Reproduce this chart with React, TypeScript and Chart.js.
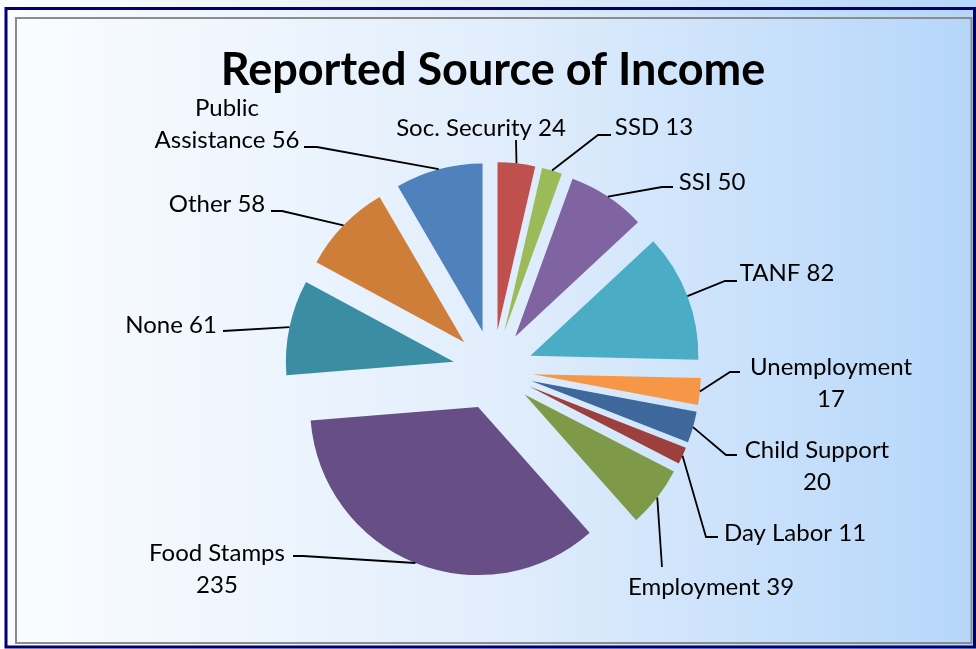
import React, { useEffect, useRef } from "react";
import { Chart, registerables, ArcElement, PieController } from "chart.js";

Chart.register(...registerables);

// ---------- data ----------
const TITLE = "Reported Source of Income";
const CATEGORIES = [
  "Soc. Security",
  "SSD",
  "SSI",
  "TANF",
  "Unemployment",
  "Child Support",
  "Day Labor",
  "Employment",
  "Food Stamps",
  "None",
  "Other",
  "Public Assistance",
];
const VALUES = [24, 13, 50, 82, 17, 20, 11, 39, 235, 61, 58, 56];
// number of words on the first label line (0 = single line label)
const LABEL_BREAK = [0, 0, 0, 0, 1, 2, 0, 0, 2, 0, 0, 1];

// ---------- styles ----------
const COLORS = [
  "#C0504D",
  "#9BBB59",
  "#8064A2",
  "#4BACC6",
  "#F79646",
  "#3E689B",
  "#9D3F3C",
  "#7E9A48",
  "#674E86",
  "#3A8DA3",
  "#CF7E39",
  "#4F81BD",
];

// label layout relative to the pie centre: [textX, textY, elbowX, elbowY, endX, endY]
const LABEL_LAYOUT: number[][] = [
  [-12, -242, 23, -230, 23, -230],
  [161, -243, 105, -235, 118, -235],
  [219, -188, 169, -183, 180, -183],
  [294, -97, 232, -89, 244, -89],
  [338, -3, 237, 2, 247, 2],
  [324, 80, 233, 85, 244, 85],
  [302, 163, 213, 167, 225, 167],
  [218, 217, 169, 197, 169, 197],
  [-276, 183, -190, 186, -200, 186],
  [-322, -45, -270, -39, -270, -39],
  [-276, -166, -211, -159, -222, -159],
  [-266, -262, -176, -223, -189, -223],
];

const EXPLODE = 40;
const PIE_RADIUS = 168;
const LABEL_FONT = "24px Lato";
const LINE_HEIGHT = 32;

class ExplodedArc extends ArcElement {
  static id = "explodedArc";
  draw(ctx: CanvasRenderingContext2D) {
    const half = ((this as any).startAngle + (this as any).endAngle) / 2;
    ctx.save();
    ctx.translate(Math.cos(half) * EXPLODE, Math.sin(half) * EXPLODE);
    super.draw(ctx);
    ctx.restore();
  }
}

class ExplodedPie extends PieController {
  static id = "explodedPie";
  static defaults = { ...(PieController as any).defaults, dataElementType: "explodedArc" };
}

Chart.register(ExplodedArc as any, ExplodedPie as any);

const backgroundPlugin = {
  id: "bgFrame",
  beforeDraw(chart: any) {
    const { ctx, width, height } = chart;
    ctx.save();
    const g = ctx.createLinearGradient(0, 0, width, 0);
    g.addColorStop(0, "#fbfdff");
    g.addColorStop(0.5, "#e2eefc");
    g.addColorStop(1, "#b5d6fa");
    ctx.fillStyle = g;
    ctx.fillRect(0, 0, width, height);
    ctx.strokeStyle = "#000070";
    ctx.lineWidth = 3;
    ctx.strokeRect(6, 8.5, 968.5, 638.5);
    ctx.strokeStyle = "#8c8c8c";
    ctx.lineWidth = 2;
    ctx.strokeRect(16, 18, 955.5, 625);
    ctx.restore();
  },
};

const labelPlugin = {
  id: "pieLabels",
  afterDatasetsDraw(chart: any) {
    const { ctx } = chart;
    const meta = chart.getDatasetMeta(0);
    ctx.save();
    ctx.font = LABEL_FONT;
    ctx.fillStyle = "#000";
    ctx.strokeStyle = "#000";
    ctx.lineWidth = 1.8;
    ctx.textAlign = "center";
    ctx.textBaseline = "middle";
    meta.data.forEach((arc: any, i: number) => {
      const { x, y, startAngle, endAngle, outerRadius } = arc.getProps(
        ["x", "y", "startAngle", "endAngle", "outerRadius"],
        true
      );
      const mid = (startAngle + endAngle) / 2;
      const r = outerRadius + EXPLODE;
      const ax = x + Math.cos(mid) * r;
      const ay = y + Math.sin(mid) * r;
      const L = LABEL_LAYOUT[i];
      ctx.beginPath();
      ctx.moveTo(ax, ay);
      ctx.lineTo(x + L[2], y + L[3]);
      ctx.lineTo(x + L[4], y + L[5]);
      ctx.stroke();
      const words = `${CATEGORIES[i]} ${VALUES[i]}`.split(" ");
      const n = LABEL_BREAK[i];
      const lines = n > 0 ? [words.slice(0, n).join(" "), words.slice(n).join(" ")] : [words.join(" ")];
      lines.forEach((t, k) => {
        ctx.fillText(t, x + L[0], y + L[1] + k * LINE_HEIGHT);
      });
    });
    ctx.restore();
  },
};

export default function App() {
  const ref = useRef<HTMLCanvasElement | null>(null);
  useEffect(() => {
    if (!ref.current) return;
    const chart = new Chart(ref.current, {
      type: "explodedPie" as any,
      data: {
        labels: CATEGORIES,
        datasets: [
          {
            data: VALUES,
            backgroundColor: COLORS,
            borderWidth: 0,
            radius: PIE_RADIUS,
            clip: false,
          } as any,
        ],
      },
      options: {
        responsive: false,
        animation: false,
        devicePixelRatio: 1,
        events: [],
        layout: { padding: { left: 10, right: 0, top: 0, bottom: 6 } },
        plugins: {
          legend: { display: false },
          tooltip: { enabled: false },
          title: {
            display: true,
            text: TITLE,
            color: "#000",
            font: { family: "Lato", size: 45, weight: "bold" },
            padding: { top: 43, bottom: 0 },
          },
        },
      } as any,
      plugins: [backgroundPlugin, labelPlugin],
    });
    return () => chart.destroy();
  }, []);
  return (
    <div style={{ position: "fixed", left: 0, top: 0, width: 976, height: 649 }}>
      <canvas ref={ref} width={976} height={649} style={{ display: "block" }} />
    </div>
  );
}
